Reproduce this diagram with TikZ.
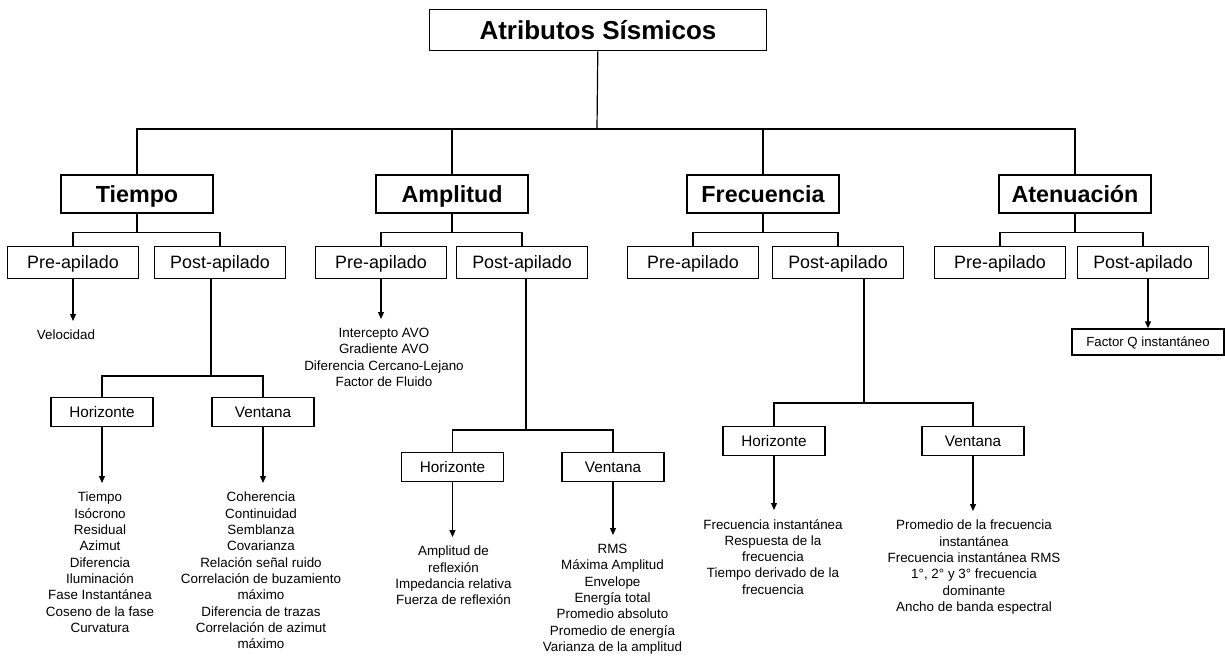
\documentclass[tikz,border=0pt]{standalone}
\usepackage{fontspec}
\setmainfont{Liberation Sans}
\usetikzlibrary{arrows.meta}

\tikzset{
  rootbox/.style={draw, line width=1.6pt, minimum width=337pt, minimum height=41pt,
    text height=18.6pt, text depth=0pt, font=\fontsize{26}{30}\selectfont\bfseries},
  mainbox/.style={draw, line width=1.6pt, minimum width=152pt, minimum height=38pt,
    text height=16.7pt, text depth=0pt, font=\fontsize{23.3}{28}\selectfont\bfseries},
  stackbox/.style={draw, line width=1.5pt, minimum width=131pt, minimum height=32pt,
    text height=12.8pt, text depth=0pt, font=\fontsize{17.9}{21}\selectfont},
  domainbox/.style={draw, line width=1.5pt, minimum width=102pt, minimum height=29pt,
    text height=10.9pt, text depth=0pt, font=\fontsize{15.3}{18}\selectfont},
  qbox/.style={draw, line width=1.5pt, minimum width=152pt, minimum height=26pt,
    text height=9.5pt, text depth=0pt, font=\fontsize{13.2}{16}\selectfont},
  attrlist/.style={align=center, anchor=north, inner xsep=0pt, inner ysep=9pt,
    font=\fontsize{13.4}{16.3}\selectfont},
  link/.style={line width=1.2pt},
  arrow/.style={link, -{Triangle[length=7pt, width=6pt]}}
}

\begin{document}
\begin{tikzpicture}[x=1pt, y=-1pt]
  \useasboundingbox (0,0) rectangle (1225,658);

  % top level
  \node[rootbox] (root) at (598,30) {Atributos Sísmicos};

  \node[mainbox] (tiempo) at (137,194) {Tiempo};
  \node[mainbox] (amplitud) at (452,194) {Amplitud};
  \node[mainbox] (frecuencia) at (763,194) {Frecuencia};
  \node[mainbox] (atenuacion) at (1075,194) {Atenuación};

  \coordinate (hub) at (597,129);
  \draw[link] (root) -- (hub);
  \foreach \n in {tiempo, amplitud, frecuencia, atenuacion}
    \draw[link] (hub) -| (\n);

  % pre / post stack
  \node[stackbox] (preT) at (73,262.5) {Pre-apilado};
  \node[stackbox] (postT) at (220,262.5) {Post-apilado};
  \node[stackbox] (preA) at (381,262.5) {Pre-apilado};
  \node[stackbox] (postA) at (522,262.5) {Post-apilado};
  \node[stackbox] (preF) at (693,262.5) {Pre-apilado};
  \node[stackbox] (postF) at (838,262.5) {Post-apilado};
  \node[stackbox] (preAt) at (1000,262.5) {Pre-apilado};
  \node[stackbox] (postAt) at (1143,262.5) {Post-apilado};

  \foreach \p/\a/\b in {tiempo/preT/postT, amplitud/preA/postA,
                        frecuencia/preF/postF, atenuacion/preAt/postAt} {
    \draw[link] (\p.south) -- ++(0,19) coordinate (j) -| (\a);
    \draw[link] (j) -| (\b);
  }

  % horizonte / ventana
  \node[domainbox] (horT) at (102,412) {Horizonte};
  \node[domainbox] (venT) at (263,412) {Ventana};
  \node[domainbox] (horA) at (452.5,467) {Horizonte};
  \node[domainbox] (venA) at (613,467) {Ventana};
  \node[domainbox] (horF) at (774,441) {Horizonte};
  \node[domainbox] (venF) at (973,441) {Ventana};

  \coordinate (jT) at (211,376);
  \coordinate (jA) at (526,430);
  \coordinate (jF) at (864,403);
  \foreach \s/\j/\h/\v in {postT/jT/horT/venT, postA/jA/horA/venA, postF/jF/horF/venF} {
    \draw[link] (\s.south -| \j) -- (\j) -| (\h);
    \draw[link] (\j) -| (\v);
  }

  % attribute lists
  \node[attrlist] (velo) at (66,321) {Velocidad};
  \node[attrlist] (avo) at (384,319) {Intercepto AVO\\Gradiente AVO\\Diferencia Cercano-Lejano\\Factor de Fluido};
  \node[attrlist] (horTlist) at (100,483) {Tiempo\\Isócrono\\Residual\\Azimut\\Diferencia\\Iluminación\\Fase Instantánea\\Coseno de la fase\\Curvatura};
  \node[attrlist] (venTlist) at (261,483) {Coherencia\\Continuidad\\Semblanza\\Covarianza\\Relación señal ruido\\Correlación de buzamiento\\máximo\\Diferencia de trazas\\Correlación de azimut\\máximo};
  \node[attrlist] (horAlist) at (453.5,537) {Amplitud de\\reflexión\\Impedancia relativa\\Fuerza de reflexión};
  \node[attrlist] (venAlist) at (612.5,535) {RMS\\Máxima Amplitud\\Envelope\\Energía total\\Promedio absoluto\\Promedio de energía\\Varianza de la amplitud};
  \node[attrlist] (horFlist) at (773,510) {Frecuencia instantánea\\Respuesta de la\\frecuencia\\Tiempo derivado de la\\frecuencia};
  \node[attrlist] (venFlist) at (974,511) {Promedio de la frecuencia\\instantánea\\Frecuencia instantánea RMS\\1°, 2° y 3° frecuencia\\dominante\\Ancho de banda espectral};
  \node[qbox] (qfactor) at (1148,342) {Factor Q instantáneo};

  \draw[arrow] (preT) -- (preT |- velo.north);
  \draw[arrow] (preA) -- (preA |- avo.north);
  \draw[arrow] (horT) -- (horT |- horTlist.north);
  \draw[arrow] (venT) -- (venT |- venTlist.north);
  \draw[arrow] (horA) -- (horA |- horAlist.north);
  \draw[arrow] (venA) -- (venA |- venAlist.north);
  \draw[arrow] (horF) -- (horF |- horFlist.north);
  \draw[arrow] (venF) -- (venF |- venFlist.north);
  \draw[arrow] (postAt.south -| qfactor) -- (qfactor);
\end{tikzpicture}
\end{document}
